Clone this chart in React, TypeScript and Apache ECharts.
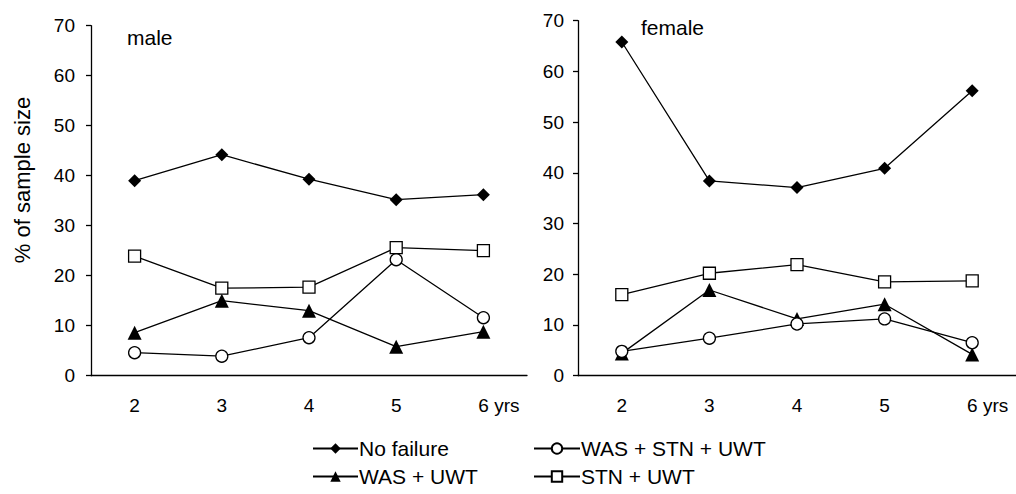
import React, { useEffect, useRef } from "react";
import * as echarts from "echarts";

const categories = ["2", "3", "4", "5", "6"];
const yTicks = { min: 0, max: 70, interval: 10 };

const maleNoFailure = [39.0, 44.2, 39.3, 35.2, 36.2];
const maleWasStnUwt = [4.6, 3.9, 7.6, 23.2, 11.6];
const maleWasUwt = [8.6, 15.0, 13.0, 5.8, 8.8];
const maleStnUwt = [23.9, 17.5, 17.7, 25.6, 25.0];

const femaleNoFailure = [65.8, 38.4, 37.1, 40.9, 56.2];
const femaleWasStnUwt = [4.8, 7.4, 10.2, 11.2, 6.5];
const femaleWasUwt = [4.4, 16.9, 11.2, 14.1, 4.2];
const femaleStnUwt = [16.0, 20.2, 21.9, 18.5, 18.7];

const FONT = "'Liberation Sans', Arial, Helvetica, sans-serif";

export default function App() {
  const ref = useRef<HTMLDivElement>(null);
  useEffect(() => {
    document.body.style.margin = "0";
    const chart = echarts.init(ref.current!, undefined, { renderer: "svg" });
    const lineStyle = { color: "#000", width: 1.3 };
    const makeX = (gridIndex: number) => ({
      type: "category",
      gridIndex,
      data: categories,
      boundaryGap: true,
      axisLine: { lineStyle: { color: "#000", width: 1.3 } },
      axisTick: { length: 6, lineStyle: { color: "#000", width: 1.3 } },
      axisLabel: {
        color: "#000",
        fontSize: 19,
        fontFamily: FONT,
        margin: 20,
        interval: 0,
        formatter: (v: string) => (v === "6" ? "{y|6 yrs}" : v),
        rich: { y: { fontSize: 19, fontFamily: FONT, color: "#000", padding: [0, 0, 0, 31] } },
      },
      splitLine: { show: false },
    });
    const makeY = (gridIndex: number, margin: number) => ({
      type: "value",
      gridIndex,
      min: yTicks.min,
      max: yTicks.max,
      interval: yTicks.interval,
      axisLine: { show: true, lineStyle: { color: "#000", width: 1.3 } },
      axisTick: { show: true, length: 5, lineStyle: { color: "#000", width: 1.3 } },
      axisLabel: { color: "#000", fontSize: 19, fontFamily: FONT, margin },
      splitLine: { show: false },
    });
    const diamond = { symbol: "diamond", symbolSize: 13, itemStyle: { color: "#000" } };
    const circle = {
      symbol: "circle",
      symbolSize: 12,
      itemStyle: { color: "#fff", borderColor: "#000", borderWidth: 1.3 },
    };
    const triangle = { symbol: "triangle", symbolSize: 14, itemStyle: { color: "#000" } };
    const square = {
      symbol: "rect",
      symbolSize: 12,
      itemStyle: { color: "#fff", borderColor: "#000", borderWidth: 1.3 },
    };
    const mk = (name: string, data: number[], idx: number, sym: any) => ({
      type: "line",
      name,
      data,
      xAxisIndex: idx,
      yAxisIndex: idx,
      lineStyle,
      showAllSymbol: true,
      ...sym,
    });
    const legendText = { color: "#000", fontSize: 21, fontFamily: FONT, padding: [0, 0, 0, -4] };
    chart.setOption({
      animation: false,
      textStyle: { fontFamily: FONT },
      grid: [
        { left: 91, top: 25.7, width: 436, height: 350 },
        { left: 578, top: 20.7, width: 441, height: 355 },
      ],
      xAxis: [makeX(0), makeX(1)],
      yAxis: [makeY(0, 16), makeY(1, 14)],
      legend: [
        {
          data: ["No failure", "WAS + UWT"],
          orient: "vertical",
          left: 312,
          top: 438,
          padding: 0,
          itemWidth: 45,
          itemHeight: 13,
          itemGap: 7,
          selectedMode: false,
          textStyle: legendText,
        },
        {
          data: ["WAS + STN + UWT", "STN + UWT"],
          orient: "vertical",
          left: 533,
          top: 438,
          padding: 0,
          itemWidth: 46,
          itemHeight: 13,
          itemGap: 7,
          selectedMode: false,
          textStyle: legendText,
        },
      ],
      graphic: [
        {
          type: "text",
          x: 22,
          y: 180,
          rotation: Math.PI / 2,
          style: {
            text: "% of sample size",
            fontSize: 22,
            fontFamily: FONT,
            fill: "#000",
            align: "center",
            verticalAlign: "middle",
          },
        },
        {
          type: "text",
          x: 127,
          y: 37,
          style: { text: "male", fontSize: 21, fontFamily: FONT, fill: "#000", verticalAlign: "middle" },
        },
        {
          type: "text",
          x: 641,
          y: 27,
          style: { text: "female", fontSize: 21, fontFamily: FONT, fill: "#000", verticalAlign: "middle" },
        },
      ],
      series: [
        mk("No failure", maleNoFailure, 0, diamond),
        mk("WAS + UWT", maleWasUwt, 0, triangle),
        mk("WAS + STN + UWT", maleWasStnUwt, 0, circle),
        mk("STN + UWT", maleStnUwt, 0, square),
        mk("No failure", femaleNoFailure, 1, diamond),
        mk("WAS + UWT", femaleWasUwt, 1, triangle),
        mk("WAS + STN + UWT", femaleWasStnUwt, 1, circle),
        mk("STN + UWT", femaleStnUwt, 1, square),
      ],
    });
    return () => chart.dispose();
  }, []);
  return <div ref={ref} style={{ width: 1016, height: 494 }} />;
}
